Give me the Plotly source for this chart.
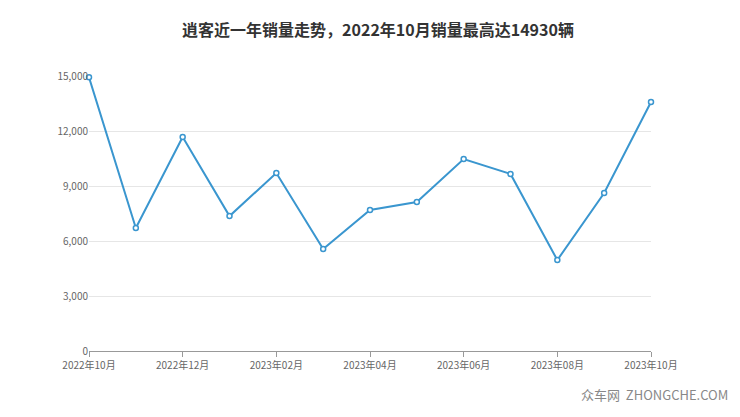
import plotly.graph_objects as go

months = ["2022年10月","2022年11月","2022年12月","2023年01月","2023年02月","2023年03月","2023年04月",
          "2023年05月","2023年06月","2023年07月","2023年08月","2023年09月","2023年10月"]
sales = [14930, 6710, 11670, 7360, 9710, 5560, 7690, 8130, 10470, 9660, 4960, 8620, 13580]
tick_vals = [0, 3000, 6000, 9000, 12000, 15000]
tick_text = ["0", "3,000", "6,000", "9,000", "12,000", "15,000"]

font = "Noto Sans CJK SC"
fig = go.Figure(go.Scatter(
    x=list(range(len(months))), y=sales, mode="lines+markers",
    line=dict(color="#3a96cf", width=2),
    marker=dict(size=5, color="white", line=dict(color="#3a96cf", width=1.5)),
    cliponaxis=False))
fig.update_layout(
    width=740, height=417, margin=dict(l=81, r=97, t=68, b=74),
    paper_bgcolor="white", plot_bgcolor="white", showlegend=False,
    font=dict(family=font, color="#666", size=11),
    title=dict(text="<b>逍客近一年销量走势，2022年10月销量最高达14930辆</b>", x=0.5, y=0.96,
               xanchor="center", font=dict(size=16, color="#333", family=font)),
    xaxis=dict(range=[0, 12], tickvals=list(range(0, 13, 2)),
               ticktext=[months[i] for i in range(0, 13, 2)],
               showgrid=False, zeroline=False, showline=True, linecolor="#999",
               ticks="outside", ticklen=5, tickcolor="#999", tickfont=dict(size=10)),
    yaxis=dict(range=[0, 15000], tickvals=tick_vals, ticktext=tick_text,
               gridcolor="#e6e6e6", zeroline=False, tickfont=dict(size=10)),
    annotations=[dict(text="众车网  ZHONGCHE.COM", xref="paper", yref="paper", x=1.14, y=-0.2,
                      xanchor="right", yanchor="bottom", showarrow=False,
                      font=dict(size=13, color="#888"))])
fig.write_html("out.html")
